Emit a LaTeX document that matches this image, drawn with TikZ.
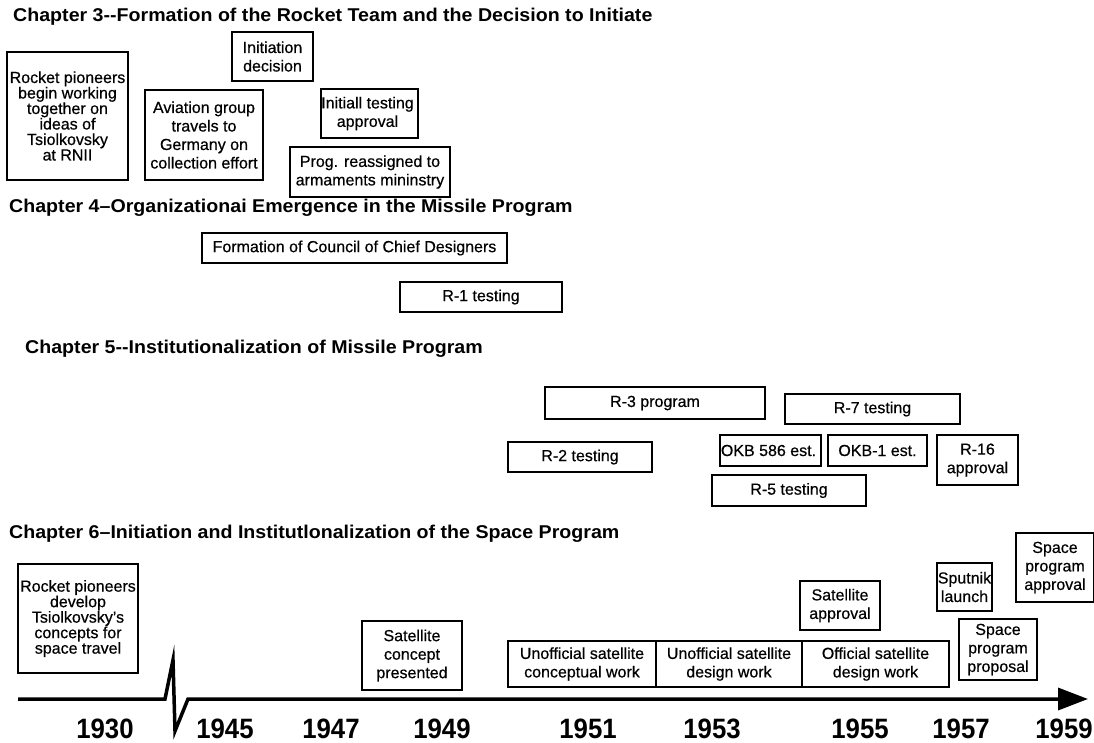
\documentclass[tikz,border=0pt]{standalone}
\usepackage{fontspec}
\setmainfont{Liberation Sans}
\newfontfamily\bodyfam{Liberation Sans}[FakeBold=0.5]
\newfontfamily\headfam{Liberation Sans}[FakeStretch=1.06]
\newfontfamily\yrfam{Liberation Sans}[FakeStretch=0.92]
\usetikzlibrary{arrows.meta}

% type sizes (picture units are points)
\newcommand\evfont{\bodyfam\fontsize{16}{18.5}\selectfont}
\newcommand\densefont{\bodyfam\fontsize{16}{15.5}\selectfont}
\newcommand\chapfont{\headfam\fontsize{18.5}{21}\selectfont\bfseries}
\newcommand\yrfont{\yrfam\fontsize{28}{32}\selectfont\bfseries}

\tikzset{
  evbox/.style={draw, line width=2.5pt, inner sep=0pt},
  evtext/.style={font=\evfont, align=center, inner sep=0pt},
  dense/.style={font=\densefont},
  chap/.style={font=\chapfont, anchor=base west, inner sep=0pt},
  yr/.style={font=\yrfont, anchor=base, inner sep=0pt},
  axis/.style={line width=3.5pt, line join=miter},
}

% \evbox[text options]{name}{x1}{y1}{x2}{y2}{text}: framed event, corners given
\newcommand\evbox[7][]{%
  \node[evbox, minimum width={(#5-#3)*1pt}, minimum height={(#6-#4)*1pt},
        label={[evtext,#1]center:#7}]
        (#2) at ({(#3+#5)/2},{(#4+#6)/2}) {};}

\begin{document}
\begin{tikzpicture}[x=1pt,y=-1pt]
\path[use as bounding box, fill=white] (0,0) rectangle (1094,742);

% ---------------- Chapter 3 ----------------
\node[chap] (ch3) at (13,21) {Chapter 3--Formation of the Rocket Team and the Decision to Initiate};
\evbox[dense]{rnii}{7}{52}{128}{180}{Rocket pioneers\\begin working\\together on\\ideas of\\Tsiolkovsky\\at RNII}
\evbox{initdec}{232}{32}{313}{81}{Initiation\\decision}
\evbox{aviation}{145}{90}{263}{180}{Aviation group\\travels to\\Germany on\\collection effort}
\evbox[xshift=-2pt]{inittest}{321}{89}{418}{138}{Initiall testing\\approval}
\evbox{reassign}{290}{147}{450}{197}{Prog. reassigned to\\armaments mininstry}

% ---------------- Chapter 4 ----------------
\node[chap] (ch4) at (9,212) {Chapter 4–Organizationai Emergence in the Missile Program};
\evbox{council}{202}{233}{507}{263}{Formation of Council of Chief Designers}
\evbox{rone}{400}{282}{562}{312}{R-1 testing}

% ---------------- Chapter 5 ----------------
\node[chap] (ch5) at (25,353) {Chapter 5--Institutionalization of Missile Program};
\evbox{rthree}{545}{387}{765}{419}{R-3 program}
\evbox{rseven}{785}{394}{960}{424}{R-7 testing}
\evbox{rtwo}{508}{442}{652}{472}{R-2 testing}
\evbox[xshift=-2pt]{okbfive}{720}{435}{821}{466}{OKB 586 est.}
\evbox{okbone}{828}{435}{927}{466}{OKB-1 est.}
\evbox{rsixteen}{937}{435}{1018}{485}{R-16\\approval}
\evbox{rfive}{712}{475}{866}{506}{R-5 testing}

% ---------------- Chapter 6 ----------------
\node[chap] (ch6) at (9,538) {Chapter 6–Initiation and Institutlonalization of the Space Program};
\evbox[dense]{pioneers}{18}{564}{138}{673}{Rocket pioneers\\develop\\Tsiolkovsky’s\\concepts for\\space travel}
\evbox{satconc}{362}{621}{462}{690}{Satellite\\concept\\presented}
\evbox{unconc}{508}{641}{656}{687}{Unofficial satellite\\conceptual work}
\evbox{undes}{656}{641}{802}{687}{Unofficial satellite\\design work}
\evbox{offdes}{802}{641}{949}{687}{Official satellite\\design work}
\evbox{satappr}{800}{581}{880}{630}{Satellite\\approval}
\evbox{sputnik}{937}{563}{992}{611}{Sputnik\\launch}
\evbox{spappr}{1016}{533}{1094}{602}{Space\\program\\approval}
\evbox{spprop}{959}{619}{1037}{680}{Space\\program\\proposal}

% ---------------- time axis with break ----------------
\coordinate (axL) at (18,699);
\coordinate (axR) at (1088,699);
\draw[axis, -{Triangle[length=30pt,width=22pt]}]
  (axL) -- (165,699) -- (173,660) -- (175,731) -- (188,699) -- (axR);

\node[yr] (y1930) at (105,738) {1930};
\node[yr] (y1945) at (225,738) {1945};
\node[yr] (y1947) at (331,738) {1947};
\node[yr] (y1949) at (442,738) {1949};
\node[yr] (y1951) at (588,738) {1951};
\node[yr] (y1953) at (712,738) {1953};
\node[yr] (y1955) at (860,738) {1955};
\node[yr] (y1957) at (961,738) {1957};
\node[yr] (y1959) at (1064,738) {1959};
\end{tikzpicture}
\end{document}
